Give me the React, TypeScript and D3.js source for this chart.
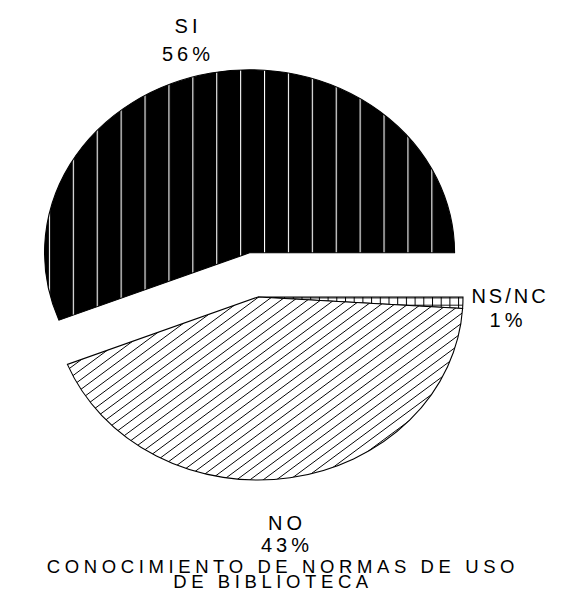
import React, { useEffect, useRef } from "react";
import * as d3 from "d3";

const categories = ["NS/NC", "NO", "SI"];
const values = [1, 43, 56];
const labels = ["1%", "43%", "56%"];
const titleLines = ["CONOCIMIENTO DE NORMAS DE USO", "DE BIBLIOTECA"];

const W = 562;
const H = 591;
const CX = 258;
const CY = 297;
const RX = 205;
const RY = 183;
const EXPLODE = 45;

export default function App() {
  const ref = useRef<SVGSVGElement | null>(null);

  useEffect(() => {
    const svg = d3.select(ref.current);
    svg.selectAll("*").remove();
    const k = RY / RX;

    const defs = svg.append("defs");
    // SI: black with white vertical lines
    const pSI = defs
      .append("pattern")
      .attr("id", "pSI")
      .attr("patternUnits", "userSpaceOnUse")
      .attr("width", 23.9)
      .attr("height", 40);
    pSI.append("rect").attr("width", 23.9).attr("height", 40).attr("fill", "#000");
    pSI
      .append("line")
      .attr("x1", 0.5)
      .attr("x2", 0.5)
      .attr("y1", 0)
      .attr("y2", 40)
      .attr("stroke", "#fff")
      .attr("stroke-width", 1.2);

    // NO: diagonal hatch
    const hatchH = 9.8;
    const skew = (Math.atan(0.74 / k) * 180) / Math.PI;
    const pNO = defs
      .append("pattern")
      .attr("id", "pNO")
      .attr("patternUnits", "userSpaceOnUse")
      .attr("width", 40)
      .attr("height", hatchH / k)
      .attr("patternTransform", `skewY(${-skew})`);
    pNO.append("rect").attr("width", 40).attr("height", hatchH / k).attr("fill", "#fff");
    pNO
      .append("line")
      .attr("x1", 0)
      .attr("x2", 40)
      .attr("y1", 0.6)
      .attr("y2", 0.6)
      .attr("stroke", "#000")
      .attr("stroke-width", 1);

    // NS/NC: grid
    const gw = 8.7;
    const gh = 7.2 / k;
    const pNS = defs
      .append("pattern")
      .attr("id", "pNS")
      .attr("patternUnits", "userSpaceOnUse")
      .attr("width", gw)
      .attr("height", gh)
      .attr("y", 0.5 / k);
    pNS.append("rect").attr("width", gw).attr("height", gh).attr("fill", "#fff");
    pNS
      .append("path")
      .attr("d", `M0.5,0V${gh}M0,0.5H${gw}`)
      .attr("stroke", "#000")
      .attr("stroke-width", 1)
      .attr("fill", "none");

    const fills = ["url(#pNS)", "url(#pNO)", "url(#pSI)"];

    const pie = d3
      .pie<number>()
      .sort(null)
      .value((d) => d)
      .startAngle(Math.PI / 2)
      .endAngle(Math.PI / 2 + 2 * Math.PI);
    const arcs = pie(values);
    const arc = d3.arc<d3.PieArcDatum<number>>().innerRadius(0).outerRadius(RX);

    arcs.forEach((a, i) => {
      const explode = categories[i] === "SI" ? EXPLODE : 0;
      const mid = (a.startAngle + a.endAngle) / 2;
      const ox = CX + explode * Math.sin(mid);
      const oy = CY - explode * Math.cos(mid);
      const g = svg
        .append("g")
        .attr("transform", `translate(${ox},${oy}) scale(1,${k})`);
      g.append("path")
        .attr("d", arc(a) as string)
        .attr("fill", fills[i])
        .attr("stroke", "#000")
        .attr("stroke-width", 1.1)
        .attr("vector-effect", "non-scaling-stroke");
    });

    // align SI pattern (lines at x ≈ 73.3 + n*23.9 absolute)
    const siIdx = categories.indexOf("SI");
    const siA = arcs[siIdx];
    const siMid = (siA.startAngle + siA.endAngle) / 2;
    const siOx = CX + EXPLODE * Math.sin(siMid);
    pSI.attr("x", 73.3 - siOx - 0.5);

    const font = "'Liberation Sans', Arial, sans-serif";
    const text = (x: number, y: number, s: string, ls = 4, fs = 20) =>
      svg
        .append("text")
        .attr("x", x)
        .attr("y", y)
        .attr("text-anchor", "middle")
        .attr("font-family", font)
        .attr("font-size", fs)
        .attr("letter-spacing", ls)
        .attr("fill", "#000")
        .text(s);

    text(188, 33, categories[2]);
    text(188, 61, labels[2]);
    text(510, 303, categories[0], 3);
    text(508, 327, labels[0]);
    text(287, 530, categories[1]);
    text(287, 552, labels[1]);
    text(283, 573, titleLines[0], 4.6, 18.5);
    text(273, 588, titleLines[1], 4.6, 18.5);
  }, []);

  return (
    <svg
      ref={ref}
      width={W}
      height={H}
      style={{ position: "absolute", left: 0, top: 0, background: "#fff" }}
    />
  );
}
